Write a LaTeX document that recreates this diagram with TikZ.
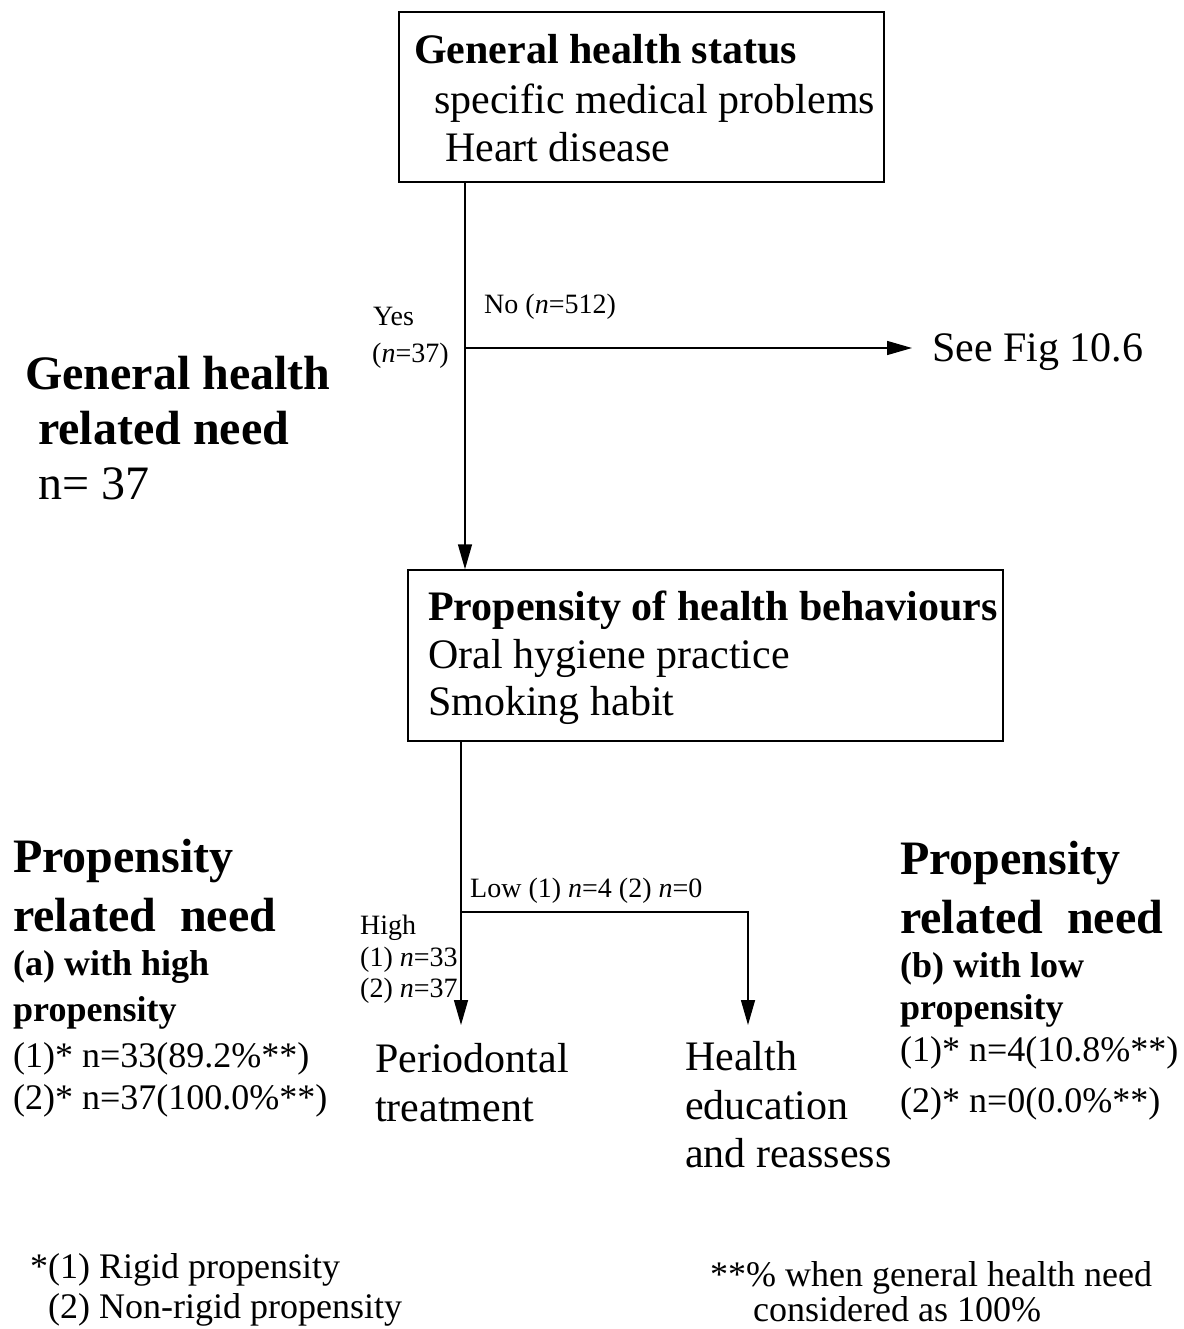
\documentclass[tikz,border=0pt]{standalone}
\usepackage{fontspec}
\setmainfont{Liberation Serif}
\usetikzlibrary{arrows.meta}
\tikzset{
  box/.style={draw, line width=1.5pt, rectangle, inner sep=0pt},
  conn/.style={line width=1.5pt},
  arr/.style={line width=1.5pt, -{Triangle[length=25pt,width=14pt]}},
  txt/.style={anchor=base west, inner sep=0pt},
  rg/.style={txt, font=\fontsize{42}{48}\selectfont},
  bg/.style={txt, font=\bfseries\fontsize{42}{48}\selectfont},
  bbig/.style={txt, font=\bfseries\fontsize{48}{54}\selectfont},
  rbig/.style={txt, font=\fontsize{48}{54}\selectfont},
  sm/.style={txt, font=\fontsize{28}{32}\selectfont},
  md/.style={txt, font=\fontsize{36}{40}\selectfont},
  bmd/.style={txt, font=\bfseries\fontsize{36}{40}\selectfont},
}
\begin{document}
\begin{tikzpicture}[x=1pt,y=-1pt]
\useasboundingbox (0,0) rectangle (1183,1329);
% boxes
\node[box, minimum width=485, minimum height=170] (gh) at (641.5,97) {};
\node[box, minimum width=595, minimum height=171] (pb) at (705.5,655.5) {};
% box 1 text
\node[bg] (gh1) at (414,64) {General health status};
\node[rg] (gh2) at (434,114) {specific medical problems};
\node[rg] (gh3) at (445,162) {Heart disease};
% box 2 text
\node[bg] (pb1) at (428,620) {Propensity of health behaviours};
\node[rg] (pb2) at (428,668) {Oral hygiene practice};
\node[rg] (pb3) at (428,715) {Smoking habit};
% left big labels
\node[bbig] (l1) at (25,389) {General health};
\node[bbig] (l2) at (38,444) {related need};
\node[rbig] (l3) at (38,499) {n= 37};
% see fig
\node[txt, font=\fontsize{42}{48}\selectfont, inner xsep=20pt] (see) at (912,361) {See Fig 10.6};
% connector coordinates
\coordinate (v1) at (465,0);
\coordinate (j1) at (465,348);
\coordinate (v2) at (461,0);
\coordinate (j2) at (461,912);
\coordinate (j3) at (748,912);
\coordinate (t1) at (461,1025);
\coordinate (t2) at (748,1025);
% connectors
\draw[arr] (gh.south -| v1) -- (pb.north -| v1);
\draw[arr] (j1) -- (j1 -| see.west);
\draw[arr] (pb.south -| v2) -- (t1);
\draw[arr] (j2) -- (j3) -- (t2);
% small labels
\node[sm] (yes) at (373,325) {Yes};
\node[sm] (yesn) at (372,362) {(\textit{n}=37)};
\node[sm] (no) at (484,313) {No (\textit{n}=512)};
\node[sm] (low) at (470,897) {Low (1) \textit{n}=4 (2) \textit{n}=0};
\node[sm] (hi1) at (360,934) {High};
\node[sm] (hi2) at (360,966) {(1) \textit{n}=33};
\node[sm] (hi3) at (360,997) {(2) \textit{n}=37};
% outcomes
\node[rg] (o1) at (375,1072) {Periodontal};
\node[rg] (o2) at (375,1121) {treatment};
\node[rg] (o3) at (685,1070) {Health};
\node[rg] (o4) at (685,1119) {education};
\node[rg] (o5) at (685,1167) {and reassess};
% left propensity
\node[bbig] (a1) at (13,872) {Propensity};
\node[bbig] (a2) at (13,931) {related~~need};
\node[bmd] (a3) at (13,975) {(a) with high};
\node[bmd] (a4) at (13,1021) {propensity};
\node[md] (a5) at (13,1067) {(1)* n=33(89.2\%**)};
\node[md] (a6) at (13,1109) {(2)* n=37(100.0\%**)};
% right propensity
\node[bbig] (b1) at (900,874) {Propensity};
\node[bbig] (b2) at (900,933) {related~~need};
\node[bmd] (b3) at (900,977) {(b) with low};
\node[bmd] (b4) at (900,1019) {propensity};
\node[md] (b5) at (900,1061) {(1)* n=4(10.8\%**)};
\node[md] (b6) at (900,1112) {(2)* n=0(0.0\%**)};
% footnotes
\node[md] (f1) at (30,1278) {*(1) Rigid propensity};
\node[md] (f2) at (48,1318) {(2) Non-rigid propensity};
\node[md] (f3) at (710,1286) {**\% when general health need};
\node[md] (f4) at (753,1321) {considered as 100\%};
\end{tikzpicture}
\end{document}
